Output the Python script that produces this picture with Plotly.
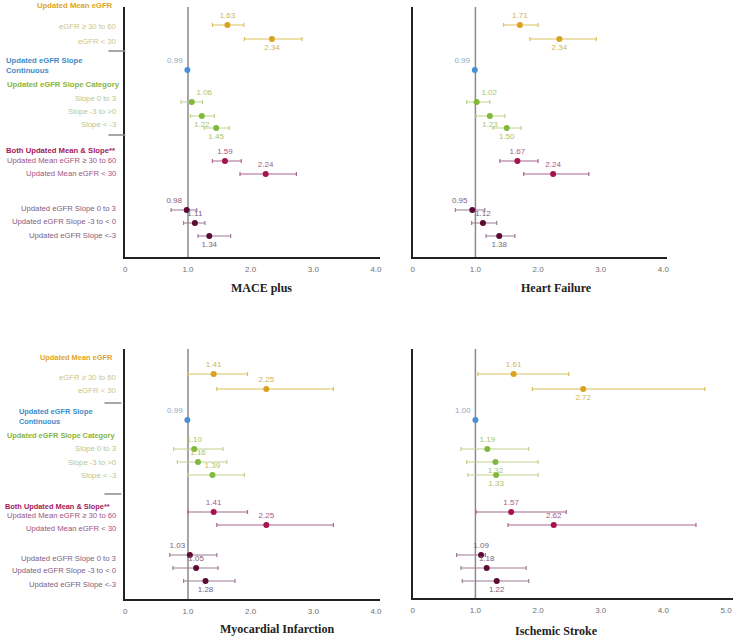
import plotly.graph_objects as go

# ---------------- DATA ----------------
row_labels = ["eGFR \u2265 30 to 60", "eGFR < 30", "Updated eGFR Slope Continuous",
              "Slope 0 to 3", "Slope -3 to >0", "Slope < -3",
              "Updated Mean eGFR \u2265 30 to 60", "Updated Mean eGFR < 30",
              "Updated eGFR Slope 0 to 3", "Updated eGFR Slope -3 to < 0", "Updated eGFR Slope <-3"]
row_groups = ["mean", "mean", "cont", "cat", "cat", "cat", "bmean", "bmean", "bslope", "bslope", "bslope"]
group_headers = {"mean": "Updated Mean eGFR", "cont": "Updated eGFR Slope<br>Continuous",
                 "cat": "Updated eGFR Slope Category", "bmean": "Both Updated Mean & Slope**"}

panel_titles = ["MACE plus", "Heart Failure", "Myocardial Infarction", "Ischemic Stroke"]

mace_hr = [1.63, 2.34, 0.99, 1.06, 1.22, 1.45, 1.59, 2.24, 0.98, 1.11, 1.34]
mace_lo = [1.39, 1.90, 0.99, 0.89, 1.04, 1.26, 1.39, 1.83, 0.73, 0.93, 1.16]
mace_hi = [1.89, 2.82, 0.99, 1.23, 1.42, 1.66, 1.85, 2.73, 1.14, 1.27, 1.68]
mace_txt = ["1.63", "2.34", "0.99", "1.06", "1.22", "1.45", "1.59", "2.24", "0.98", "1.11", "1.34"]

hf_hr = [1.71, 2.34, 0.99, 1.02, 1.23, 1.50, 1.67, 2.24, 0.95, 1.12, 1.38]
hf_lo = [1.45, 1.87, 0.99, 0.86, 1.01, 1.28, 1.39, 1.77, 0.68, 0.94, 1.17]
hf_hi = [2.00, 2.93, 0.99, 1.23, 1.47, 1.73, 2.00, 2.81, 1.15, 1.34, 1.63]
hf_txt = ["1.71", "2.34", "0.99", "1.02", "1.23", "1.50", "1.67", "2.24", "0.95", "1.12", "1.38"]

mi_hr = [1.41, 2.25, 0.99, 1.10, 1.16, 1.39, 1.41, 2.25, 1.03, 1.13, 1.28]
mi_lo = [1.00, 1.46, 0.99, 0.77, 0.83, 1.00, 1.00, 1.46, 0.71, 0.76, 0.93]
mi_hi = [1.95, 3.32, 0.99, 1.56, 1.62, 1.90, 1.95, 3.32, 1.46, 1.48, 1.75]
mi_txt = ["1.41", "2.25", "0.99", "1.10", "1.16", "1.39", "1.41", "2.25", "1.03", "1.05", "1.28"]

st_hr = [1.61, 2.72, 1.00, 1.19, 1.32, 1.33, 1.57, 2.25, 1.09, 1.18, 1.34]
st_lo = [1.04, 1.91, 1.00, 0.77, 0.86, 0.88, 1.01, 1.52, 0.70, 0.77, 0.79]
st_hi = [2.49, 4.66, 1.00, 1.85, 2.00, 2.00, 2.45, 4.52, 1.16, 1.81, 1.85]
st_txt = ["1.61", "2.72", "1.00", "1.19", "1.32", "1.33", "1.57", "2.62", "1.09", "1.18", "1.22"]

tick_vals_4 = [0, 1, 2, 3, 4]
tick_text_4 = ["0", "1.0", "2.0", "3.0", "4.0"]
tick_vals_5 = [0, 1, 2, 3, 4, 5]
tick_text_5 = ["0", "1.0", "2.0", "3.0", "4.0", "5.0"]

# ---------------- LAYOUT / STYLE ----------------
W, H = 737, 639
PX_PER_UNIT = 63.0

def px(x):
    return x / W

def py(y):
    return 1 - y / H

styles = {
    "mean":   dict(dot="#D9A21F", line="#D9C25A", txt="#D2B44E", lab="#CEC48A", head="#E0A526"),
    "cont":   dict(dot="#4A90D9", line="#4A90D9", txt="#8EAAC6", lab="#8EAAC6", head="#3E8BC9"),
    "cat":    dict(dot="#80B93C", line="#C0D38E", txt="#A9C46A", lab="#B6C692", head="#8AB43C"),
    "bmean":  dict(dot="#A6124F", line="#AA668E", txt="#A35C86", lab="#A0547F", head="#A3185A"),
    "bslope": dict(dot="#5C0B33", line="#9C7C98", txt="#7F6279", lab="#7E6180", head="#5C0B33"),
}

top_rows_y = [25, 39, 70, 102, 116, 128, 161, 174, 210, 223, 236]
bot_rows_y = [374, 389, 420, 449, 462, 475, 512, 525, 555, 568, 581]

panels = [
    dict(hr=mace_hr, lo=mace_lo, hi=mace_hi, txt=mace_txt, x0=124, x1=380, y0=7, y1=257,
         rows=top_rows_y, tv=tick_vals_4, tt=tick_text_4, title_x=261, title_y=288,
         pos=["top center", "bottom center", "top left", "top right", "bottom center", "bottom center",
              "top center", "top center", "top left", "top center", "bottom center"]),
    dict(hr=hf_hr, lo=hf_lo, hi=hf_hi, txt=hf_txt, x0=413, x1=669, y0=7, y1=257,
         rows=top_rows_y, tv=tick_vals_4, tt=tick_text_4, title_x=558, title_y=288,
         pos=["top center", "bottom center", "top left", "top right", "bottom center", "bottom center",
              "top center", "top center", "top left", "top center", "bottom center"]),
    dict(hr=mi_hr, lo=mi_lo, hi=mi_hi, txt=mi_txt, x0=124, x1=380, y0=349, y1=599,
         rows=bot_rows_y, tv=tick_vals_4, tt=tick_text_4, title_x=277, title_y=629,
         pos=["top center", "top center", "top left", "top center", "top center", "top center",
              "top center", "top center", "top left", "top center", "bottom center"]),
    dict(hr=st_hr, lo=st_lo, hi=st_hi, txt=st_txt, x0=413, x1=735, y0=349, y1=598,
         rows=bot_rows_y, tv=tick_vals_5, tt=tick_text_5, title_x=558, title_y=631,
         pos=["top center", "bottom center", "top left", "top center", "bottom center", "bottom center",
              "top center", "top center", "top center", "top center", "bottom center"]),
]

fig = go.Figure()
layout = dict(width=W, height=H, margin=dict(l=0, r=0, t=0, b=0), showlegend=False,
              paper_bgcolor="white", plot_bgcolor="white",
              font=dict(family="Liberation Sans, Arial, sans-serif", size=8))
shapes = []
annotations = []

for i, p in enumerate(panels):
    n = i + 1
    xa = "x" if n == 1 else f"x{n}"
    ya = "y" if n == 1 else f"y{n}"
    xkey = "xaxis" if n == 1 else f"xaxis{n}"
    ykey = "yaxis" if n == 1 else f"yaxis{n}"
    xmax = (p["x1"] - p["x0"]) / PX_PER_UNIT
    layout[xkey] = dict(domain=[px(p["x0"]), px(p["x1"])], range=[0, xmax], anchor=ya,
                        showline=True, linecolor="#222222", linewidth=1.5, showgrid=False,
                        zeroline=False, ticks="", tickvals=p["tv"], ticktext=p["tt"],
                        ticklabelstandoff=4,
                        tickfont=dict(size=8, color="#707070"), fixedrange=True)
    layout[ykey] = dict(domain=[py(p["y1"]), py(p["y0"])], range=[p["y1"], p["y0"]], anchor=xa,
                        showline=True, linecolor="#222222", linewidth=1.5, showgrid=False,
                        zeroline=False, showticklabels=False, ticks="", fixedrange=True)
    # reference line at HR = 1
    shapes.append(dict(type="line", xref=xa, yref=f"{ya} domain", x0=1, x1=1, y0=0, y1=1,
                       line=dict(color="#8A8A8A", width=1.5), layer="below"))
    for g in ["mean", "cont", "cat", "bmean", "bslope"]:
        idx = [k for k, gg in enumerate(row_groups) if gg == g]
        st = styles[g]
        xs = [p["hr"][k] for k in idx]
        fig.add_trace(go.Scatter(
            x=xs, y=[p["rows"][k] for k in idx], xaxis=xa, yaxis=ya,
            mode="markers+text",
            text=[p["txt"][k] for k in idx],
            textposition=[p["pos"][k] for k in idx],
            textfont=dict(size=8, color=st["txt"]),
            marker=dict(size=6, color=st["dot"]),
            error_x=dict(type="data", symmetric=False,
                         array=[p["hi"][k] - p["hr"][k] for k in idx],
                         arrayminus=[p["hr"][k] - p["lo"][k] for k in idx],
                         color=st["line"], thickness=1.2, width=2),
            cliponaxis=False, hoverinfo="skip"))
    annotations.append(dict(text=f"<b>{panel_titles[i]}</b>", x=px(p["title_x"]), y=py(p["title_y"]),
                            xref="paper", yref="paper", showarrow=False, xanchor="center", yanchor="middle",
                            font=dict(family="Liberation Serif, Times New Roman, serif", size=12, color="#222222")))

# ---- left-side row labels and headers ----
label_y_sets = [
    dict(rows=[27, 41, None, 98, 112, 125, 161, 174, 208, 221, 235], hsize=7.7,
         heads=dict(mean=(5, "r", 114), cont=(65, "l", 2), cat=(84, "l", 3), bmean=(150, "r", 116)),
         seps=[51, 135], sep_x=(107, 124)),
    dict(rows=[377, 390, None, 448, 462, 475, 515, 528, 558, 570, 584], hsize=7.4,
         heads=dict(mean=(357, "r", 114), cont=(416, "l", 15), cat=(435, "l", 3), bmean=(506, "r", 111)),
         seps=[403, 494], sep_x=(103, 120)),
]
for ls in label_y_sets:
    for k, lab in enumerate(row_labels):
        yv = ls["rows"][k]
        if yv is None:
            continue
        annotations.append(dict(text=lab, x=px(117), y=py(yv), xref="paper", yref="paper",
                                showarrow=False, xanchor="right", yanchor="middle",
                                font=dict(size=7.7, color=styles[row_groups[k]]["lab"])))
    for g, (yv, al, xv) in ls["heads"].items():
        annotations.append(dict(text=f"<b>{group_headers[g]}</b>", x=px(xv), y=py(yv), xref="paper", yref="paper",
                                showarrow=False, xanchor="right" if al == "r" else "left", yanchor="middle",
                                align="left", font=dict(size=ls["hsize"], color=styles[g]["head"])))
    for sy in ls["seps"]:
        shapes.append(dict(type="line", xref="paper", yref="paper", x0=px(ls["sep_x"][0]), x1=px(ls["sep_x"][1]),
                           y0=py(sy), y1=py(sy), line=dict(color="#8A8A8A", width=1.5)))

layout["shapes"] = shapes
layout["annotations"] = annotations
fig.update_layout(**layout)
fig.write_html("out.html", config={"displayModeBar": False},
               post_script="document.body.style.margin='0';document.body.style.padding='0';")
